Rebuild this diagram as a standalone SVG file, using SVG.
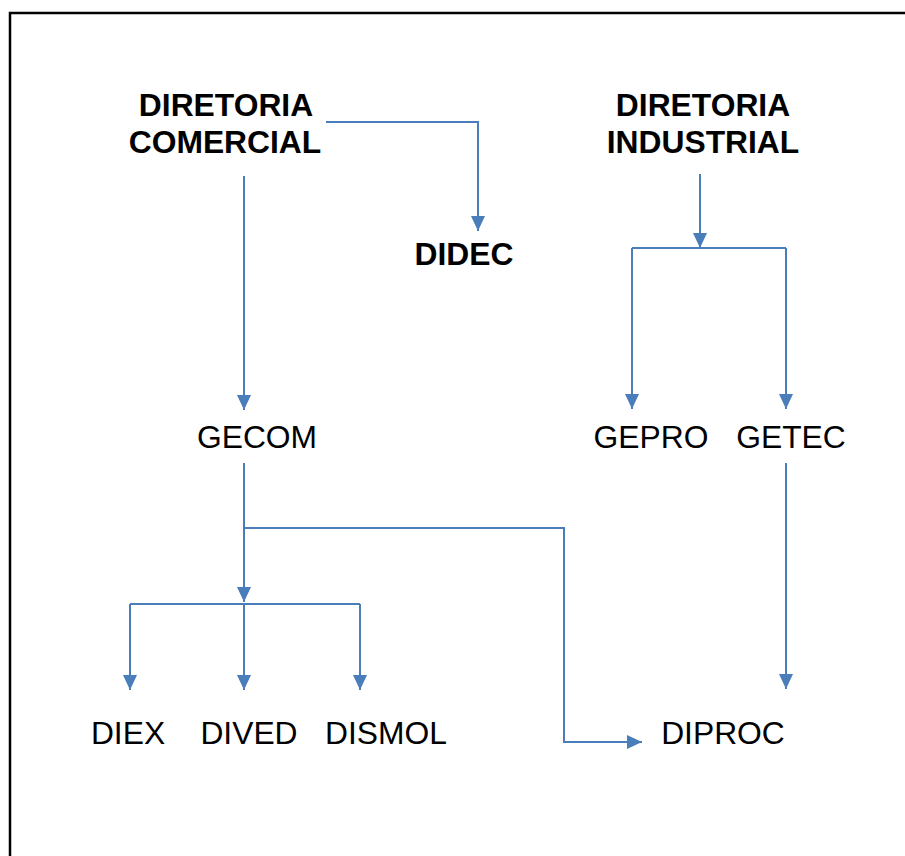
<svg xmlns="http://www.w3.org/2000/svg" width="905" height="856" viewBox="0 0 905 856">
  <defs>
    <marker id="arrow" viewBox="0 0 15 14" refX="15" refY="7" markerWidth="15" markerHeight="14" markerUnits="userSpaceOnUse" orient="auto">
      <path d="M0,0 L15,7 L0,14 Z" fill="#4a7ebb"/>
    </marker>
    <style>
      .frame { fill: none; stroke: #000; stroke-width: 2.5; }
      .link { fill: none; stroke: #4a7ebb; stroke-width: 2; }
      .arr { marker-end: url(#arrow); }
      .head { font-family: "Liberation Sans", Arial, sans-serif; font-size: 31.8px; font-weight: bold; fill: #000; text-anchor: middle; }
      .unit { font-family: "Liberation Sans", Arial, sans-serif; font-size: 31.8px; fill: #000; text-anchor: middle; }
    </style>
  </defs>
  <rect width="905" height="856" fill="#fff"/>
  <!-- outer frame, open at right and bottom edges -->
  <path class="frame" d="M10,857 V13 H906"/>

  <g id="connectors">
    <!-- Diretoria Comercial -> DIDEC -->
    <path class="link arr" d="M326,122 H478 V231"/>
    <!-- Diretoria Comercial -> GECOM -->
    <path class="link arr" d="M244,176 V410"/>
    <!-- Diretoria Industrial -> split -->
    <path class="link arr" d="M700,174 V248"/>
    <path class="link" d="M632,248 H786"/>
    <path class="link arr" d="M632,248 V409"/>
    <path class="link arr" d="M786,248 V409"/>
    <!-- GECOM -> split -->
    <path class="link arr" d="M244,463 V602"/>
    <path class="link" d="M130,604 H360"/>
    <path class="link arr" d="M130,604 V690"/>
    <path class="link arr" d="M244,604 V690"/>
    <path class="link arr" d="M360,604 V690"/>
    <!-- GECOM -> DIPROC -->
    <path class="link arr" d="M244,528 H564 V742 H642"/>
    <!-- GETEC -> DIPROC -->
    <path class="link arr" d="M786,463 V689"/>
  </g>

  <g id="diretoria-comercial">
    <text class="head" x="226" y="116">DIRETORIA</text>
    <text class="head" x="225" y="153">COMERCIAL</text>
  </g>
  <g id="diretoria-industrial">
    <text class="head" x="703" y="116">DIRETORIA</text>
    <text class="head" x="703" y="153">INDUSTRIAL</text>
  </g>
  <g id="didec">
    <text class="head" x="464" y="265">DIDEC</text>
  </g>
  <g id="gecom">
    <text class="unit" x="257" y="448">GECOM</text>
  </g>
  <g id="gepro">
    <text class="unit" x="651" y="448">GEPRO</text>
  </g>
  <g id="getec">
    <text class="unit" x="791" y="448">GETEC</text>
  </g>
  <g id="diex">
    <text class="unit" x="128" y="744">DIEX</text>
  </g>
  <g id="dived">
    <text class="unit" x="249" y="744">DIVED</text>
  </g>
  <g id="dismol">
    <text class="unit" x="386" y="744">DISMOL</text>
  </g>
  <g id="diproc">
    <text class="unit" x="723" y="744">DIPROC</text>
  </g>
</svg>
